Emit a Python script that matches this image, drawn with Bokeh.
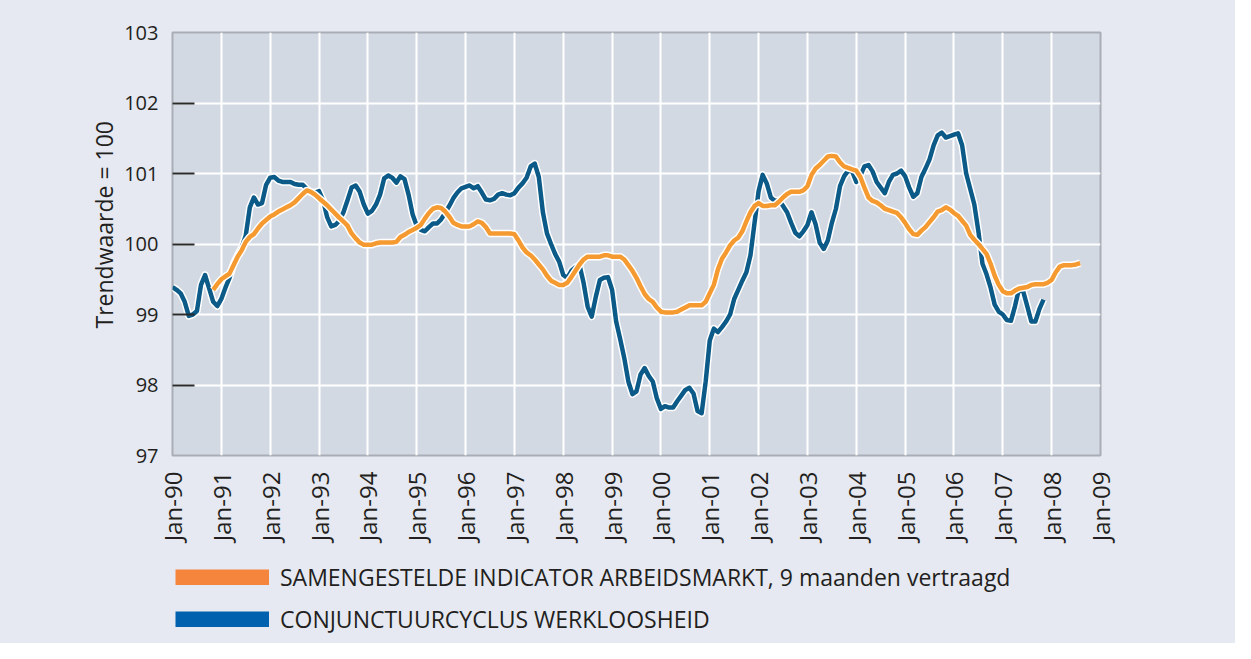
import math
from bokeh.plotting import figure
from bokeh.layouts import column
from bokeh.models import (Range1d, FixedTicker, Legend, LegendItem,
                          ColumnDataSource, Title)
from bokeh.embed import file_html
from bokeh.resources import INLINE

# ---------------- data (monthly, month 0 = Jan-1990) ----------------
YEAR_LABELS = ["Jan-90", "Jan-91", "Jan-92", "Jan-93", "Jan-94", "Jan-95",
               "Jan-96", "Jan-97", "Jan-98", "Jan-99", "Jan-00", "Jan-01",
               "Jan-02", "Jan-03", "Jan-04", "Jan-05", "Jan-06", "Jan-07",
               "Jan-08", "Jan-09"]

SERIES_NAMES = ["SAMENGESTELDE INDICATOR ARBEIDSMARKT, 9 maanden vertraagd",
                "CONJUNCTUURCYCLUS WERKLOOSHEID"]

BLUE_START = 0      # Jan-1990
BLUE_VALUES = [
    99.39, 99.35, 99.30, 99.18, 98.98, 99.00, 99.05, 99.42, 99.56, 99.37,
    99.18, 99.12, 99.22, 99.38, 99.52, 99.72, 99.84, 99.95, 100.12, 100.52,
    100.66, 100.56, 100.58, 100.84, 100.94, 100.95, 100.90, 100.88, 100.88, 100.88,
    100.85, 100.84, 100.84, 100.78, 100.73, 100.73, 100.75, 100.62, 100.38, 100.25,
    100.27, 100.33, 100.45, 100.62, 100.80, 100.83, 100.74, 100.56, 100.43, 100.47,
    100.56, 100.70, 100.93, 100.97, 100.94, 100.87, 100.96, 100.92, 100.70, 100.42,
    100.26, 100.20, 100.18, 100.24, 100.29, 100.29, 100.35, 100.44, 100.54, 100.65,
    100.73, 100.79, 100.81, 100.83, 100.79, 100.82, 100.73, 100.63, 100.62, 100.64,
    100.70, 100.72, 100.70, 100.69, 100.72, 100.80, 100.86, 100.94, 101.10, 101.14,
    100.95, 100.45, 100.15, 100.00, 99.86, 99.75, 99.56, 99.52, 99.62, 99.67,
    99.70, 99.45, 99.11, 98.97, 99.25, 99.49, 99.52, 99.53, 99.35, 98.90,
    98.65, 98.38, 98.05, 97.87, 97.91, 98.15, 98.24, 98.13, 98.05, 97.81,
    97.66, 97.70, 97.68, 97.68, 97.77, 97.85, 97.93, 97.96, 97.88, 97.63,
    97.60, 98.05, 98.63, 98.80, 98.75, 98.82, 98.90, 99.00, 99.22, 99.35,
    99.48, 99.60, 99.84, 100.30, 100.75, 100.98, 100.86, 100.66, 100.61, 100.62,
    100.54, 100.45, 100.30, 100.16, 100.11, 100.18, 100.27, 100.45, 100.28, 100.02,
    99.93, 100.05, 100.30, 100.50, 100.82, 100.96, 101.04, 101.03, 100.88, 100.97,
    101.10, 101.12, 101.03, 100.88, 100.80, 100.72, 100.88, 100.98, 101.00, 101.04,
    100.96, 100.80, 100.67, 100.72, 100.95, 101.07, 101.20, 101.40, 101.54, 101.58,
    101.51, 101.53, 101.55, 101.57, 101.40, 101.00, 100.78, 100.56, 100.18, 99.72,
    99.57, 99.38, 99.14, 99.04, 99.00, 98.92, 98.91, 99.12, 99.37, 99.33,
    99.12, 98.90, 98.90, 99.08, 99.21,
]

ORANGE_START = 10   # Nov-1990
ORANGE_VALUES = [
    99.35, 99.43, 99.50, 99.54, 99.58, 99.70, 99.82, 99.91, 100.03, 100.10,
    100.14, 100.22, 100.29, 100.34, 100.39, 100.42, 100.46, 100.49, 100.52, 100.55,
    100.59, 100.65, 100.71, 100.76, 100.74, 100.70, 100.65, 100.60, 100.55, 100.49,
    100.43, 100.37, 100.32, 100.26, 100.15, 100.08, 100.02, 99.99, 99.99, 99.99,
    100.01, 100.02, 100.02, 100.02, 100.02, 100.03, 100.10, 100.13, 100.17, 100.20,
    100.23, 100.27, 100.36, 100.44, 100.50, 100.52, 100.51, 100.46, 100.39, 100.30,
    100.27, 100.25, 100.25, 100.25, 100.28, 100.32, 100.30, 100.24, 100.15, 100.15,
    100.15, 100.15, 100.15, 100.15, 100.14, 100.05, 99.95, 99.88, 99.84, 99.78,
    99.71, 99.64, 99.55, 99.48, 99.45, 99.42, 99.42, 99.45, 99.53, 99.62,
    99.71, 99.78, 99.82, 99.82, 99.82, 99.82, 99.84, 99.84, 99.82, 99.82,
    99.82, 99.78, 99.70, 99.62, 99.52, 99.40, 99.29, 99.22, 99.18, 99.10,
    99.04, 99.03, 99.03, 99.03, 99.04, 99.07, 99.10, 99.13, 99.13, 99.13,
    99.13, 99.18, 99.30, 99.42, 99.64, 99.79, 99.88, 99.98, 100.05, 100.09,
    100.18, 100.32, 100.45, 100.54, 100.58, 100.54, 100.54, 100.55, 100.55, 100.60,
    100.66, 100.71, 100.74, 100.74, 100.74, 100.76, 100.82, 100.98, 101.07, 101.12,
    101.18, 101.24, 101.25, 101.24, 101.16, 101.10, 101.08, 101.06, 101.04, 100.95,
    100.80, 100.66, 100.61, 100.59, 100.55, 100.50, 100.48, 100.46, 100.44, 100.38,
    100.30, 100.21, 100.14, 100.13, 100.19, 100.24, 100.31, 100.38, 100.46, 100.48,
    100.52, 100.49, 100.44, 100.40, 100.33, 100.26, 100.13, 100.06, 100.00, 99.93,
    99.86, 99.72, 99.55, 99.42, 99.33, 99.30, 99.30, 99.34, 99.37, 99.38,
    99.39, 99.42, 99.43, 99.43, 99.43, 99.45, 99.49, 99.60, 99.68, 99.70,
    99.70, 99.70, 99.71, 99.73,
]

Y_TICKS = [97, 98, 99, 100, 101, 102, 103]
Y_LABEL = "Trendwaarde = 100"

# ---------------- styling ----------------
FONT = "Open Sans"
TEXT = "#231f20"
PAGE_BG = "#e6e9f1"
PLOT_BG = "#d3d9e3"
BORDER = "#a9aeb6"
BLUE_LINE = "#0b5a87"
ORANGE_LINE = "#f59a30"
BLUE_KEY = "#0061ae"
ORANGE_KEY = "#f5843c"

W = 1235
MAIN_H = 550
LEG_H = 93

blue_x = list(range(BLUE_START, BLUE_START + len(BLUE_VALUES)))
orange_x = list(range(ORANGE_START, ORANGE_START + len(ORANGE_VALUES)))
blue_src = ColumnDataSource(dict(x=blue_x, y=BLUE_VALUES))
orange_src = ColumnDataSource(dict(x=orange_x, y=ORANGE_VALUES))

n_years = len(YEAR_LABELS)
x_ticks = [12 * i for i in range(n_years)]

p = figure(width=W, height=MAIN_H, output_backend="svg", toolbar_location=None,
           x_range=Range1d(x_ticks[0], x_ticks[-1]),
           y_range=Range1d(Y_TICKS[0], Y_TICKS[-1]),
           min_border_left=172, min_border_right=135,
           min_border_top=32, min_border_bottom=95)
p.border_fill_color = PAGE_BG
p.background_fill_color = PLOT_BG
p.outline_line_color = BORDER
p.outline_line_width = 2

# grid
p.xgrid.ticker = FixedTicker(ticks=x_ticks)
p.ygrid.ticker = FixedTicker(ticks=Y_TICKS)
for g in (p.xgrid, p.ygrid):
    g.grid_line_color = "white"
    g.grid_line_width = 2

# x axis
p.xaxis.ticker = FixedTicker(ticks=x_ticks)
p.xaxis.major_label_overrides = {t: lab for t, lab in zip(x_ticks, YEAR_LABELS)}
p.xaxis.major_label_orientation = math.pi / 2
p.xaxis.major_tick_line_color = None
p.xaxis.minor_tick_line_color = None
p.xaxis.major_tick_out = 0
p.xaxis.minor_tick_out = 0
p.xaxis.axis_line_color = None
p.xaxis.major_label_standoff = 16
p.xaxis.major_label_text_font = FONT
p.xaxis.major_label_text_font_size = "24px"
p.xaxis.major_label_text_color = TEXT

# y axis
p.yaxis.ticker = FixedTicker(ticks=Y_TICKS, minor_ticks=Y_TICKS[1:-1])
p.yaxis.major_tick_line_color = None
p.yaxis.major_tick_out = 0
p.yaxis.minor_tick_line_color = "#2a2a2a"
p.yaxis.minor_tick_line_width = 2
p.yaxis.minor_tick_in = 22
p.yaxis.minor_tick_out = 0
p.yaxis.axis_line_color = None
p.yaxis.major_label_standoff = 14
p.yaxis.major_label_text_font = FONT
p.yaxis.major_label_text_font_size = "20px"
p.yaxis.major_label_text_color = TEXT

# y-axis title, starting above the frame bottom like the original
p.add_layout(Title(text=Y_LABEL, align="left", offset=127, standoff=4,
                   text_font=FONT, text_font_size="23px",
                   text_font_style="normal", text_color=TEXT), "left")

# lines with white halo
p.line("x", "y", source=blue_src, line_color="white", line_width=7.5, line_join="round")
p.line("x", "y", source=blue_src, line_color=BLUE_LINE, line_width=4.5, line_join="round")
p.line("x", "y", source=orange_src, line_color="white", line_width=7.5, line_join="round")
p.line("x", "y", source=orange_src, line_color=ORANGE_LINE, line_width=4.5, line_join="round")

# ---------------- legend strip below the chart ----------------
lg = figure(width=W, height=LEG_H, output_backend="svg", toolbar_location=None,
            x_range=Range1d(0, 1), y_range=Range1d(0, 1),
            min_border=0, min_border_left=0, min_border_right=0,
            min_border_top=0, min_border_bottom=0)
lg.axis.visible = False
lg.grid.visible = False
lg.background_fill_color = PAGE_BG
lg.border_fill_color = PAGE_BG
lg.outline_line_color = PAGE_BG   # hides the seam at the strip's frame edges
lg.outline_line_width = 3

# legend proxies: lie outside the strip's visible range, only their keys show
key_o = lg.line(x=[-5, -4], y=[-5, -4], line_color=ORANGE_KEY, line_width=16)
key_b = lg.line(x=[-5, -4], y=[-5, -4], line_color=BLUE_KEY, line_width=16)
legend = Legend(items=[LegendItem(label=SERIES_NAMES[0], renderers=[key_o]),
                       LegendItem(label=SERIES_NAMES[1], renderers=[key_b])],
                location=(3, 8), orientation="vertical",
                glyph_width=94, glyph_height=16, label_standoff=11,
                label_text_font=FONT, label_text_font_size="23px",
                label_text_color=TEXT, label_height=20, spacing=10,
                padding=0, margin=0, background_fill_alpha=0,
                border_line_alpha=0)
lg.add_layout(legend, "center")

layout = column(p, lg, spacing=0, styles={"background-color": PAGE_BG})
html = file_html(layout, INLINE)
html = html.replace("<body>", '<body style="background:%s;">' % PAGE_BG, 1)
open("out.html", "w").write(html)
